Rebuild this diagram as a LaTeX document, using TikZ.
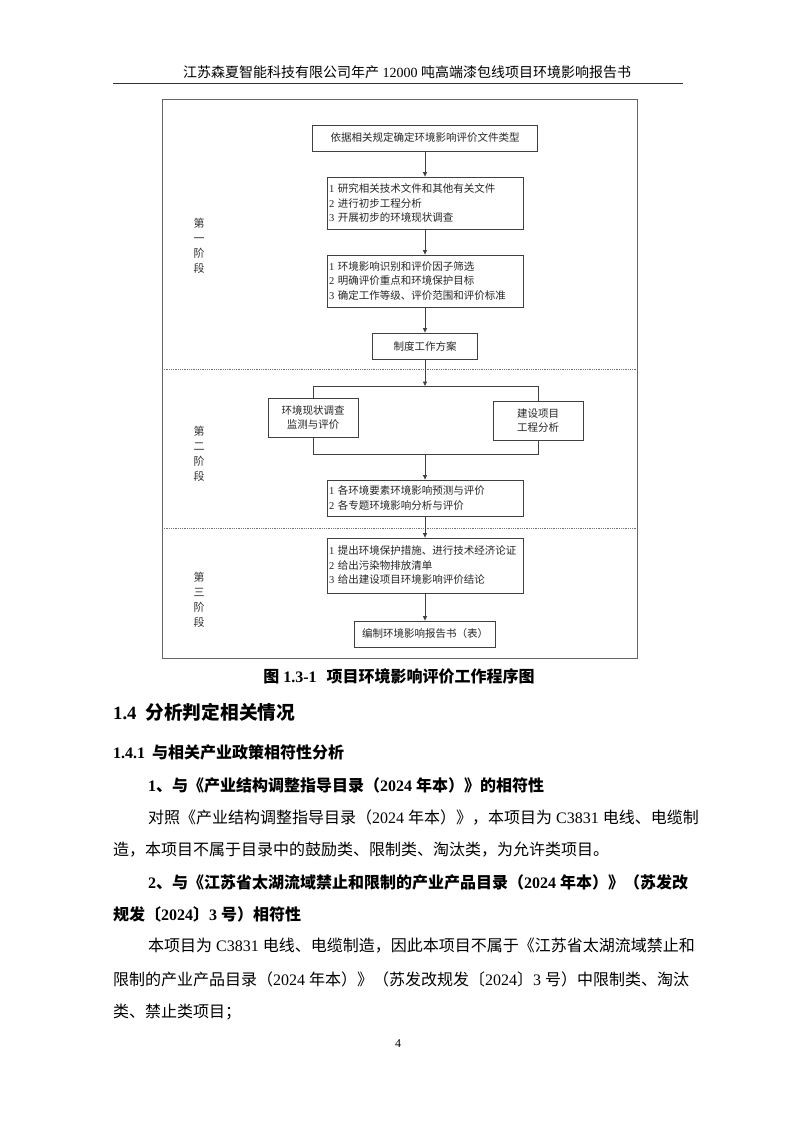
\documentclass[tikz,border=0pt]{standalone}
\usepackage{fontspec}
\setmainfont{Noto Sans CJK SC}
\newfontfamily\latf{Liberation Serif}
\newcommand\ltn[1]{{\latf #1}}
\newcommand\fsz[2]{\fontsize{#1pt}{#2pt}\selectfont}
\usetikzlibrary{arrows.meta}
\begin{document}
\begin{tikzpicture}[x=1pt,y=-1pt,
  box/.style={draw=black!75, line width=0.8pt, inner sep=0pt, text=black!85, font=\fsz{10.5}{14.5}},
  lbox/.style={box, minimum width=196pt, text width=192pt, align=left},
  cbox/.style={box, align=center},
  arr/.style={-{Triangle[length=4.5pt,width=4pt]}, draw=black!75, line width=0.8pt},
  ln/.style={draw=black!75, line width=0.8pt},
  stage/.style={inner sep=0pt, align=center, text=black!80, font=\fsz{11}{15}},
  body/.style={inner sep=0pt, anchor=west, font=\fsz{16}{20}},
  bhead/.style={inner sep=0pt, anchor=west, font=\fsz{16}{20}\bfseries},
]
\useasboundingbox[fill=white] (0,0) rectangle (793,1122);

% header
\node[inner sep=0pt, font=\fsz{14}{16}] (hdr) at (407,72) {江苏森夏智能科技有限公司年产\ltn{ 12000 }吨高端漆包线项目环境影响报告书};
\coordinate (hl) at (113,83);
\coordinate (hr) at (683,83);
\draw[line width=1pt, black!80] (hl) -- (hr);

% frame and stage separators
\draw[black!60, line width=0.9pt] (162,99) rectangle (637,658);
\coordinate (d1l) at (162,369); \coordinate (d1r) at (637,369);
\coordinate (d2l) at (162,528); \coordinate (d2r) at (637,528);
\draw[black!55, line width=0.8pt, dash pattern=on 0.9pt off 0.9pt] (d1l) -- (d1r);
\draw[black!55, line width=0.8pt, dash pattern=on 0.9pt off 0.9pt] (d2l) -- (d2r);

% stage labels
\node[stage] (s1) at (199,245.5) {第\\一\\阶\\段};
\node[stage] (s2) at (199,454) {第\\二\\阶\\段};
\node[stage] (s3) at (199,599.5) {第\\三\\阶\\段};

% boxes
\node[cbox, minimum width=225pt, minimum height=26pt] (b1) at (425,138) {依据相关规定确定环境影响评价文件类型};
\node[lbox, minimum height=52pt] (b2) at (425,203) {\ltn{1} 研究相关技术文件和其他有关文件\\\ltn{2} 进行初步工程分析\\\ltn{3} 开展初步的环境现状调查};
\node[lbox, minimum height=52pt] (b3) at (425,281) {\ltn{1} 环境影响识别和评价因子筛选\\\ltn{2} 明确评价重点和环境保护目标\\\ltn{3} 确定工作等级、评价范围和评价标准};
\node[cbox, minimum width=105pt, minimum height=26pt] (b4) at (425,346) {制度工作方案};
\node[cbox, minimum width=90pt, minimum height=39pt, font=\fsz{10.5}{13.5}] (bl) at (313,417.5) {环境现状调查\\监测与评价};
\node[cbox, minimum width=90pt, minimum height=39pt, font=\fsz{10.5}{13.5}] (br) at (538,420.5) {建设项目\\工程分析};
\node[lbox, minimum height=36pt] (b5) at (425,498) {\ltn{1} 各环境要素环境影响预测与评价\\\ltn{2} 各专题环境影响分析与评价};
\node[lbox, minimum height=55pt] (b6) at (425,565.5) {\ltn{1} 提出环境保护措施、进行技术经济论证\\\ltn{2} 给出污染物排放清单\\\ltn{3} 给出建设项目环境影响评价结论};
\node[cbox, minimum width=141pt, minimum height=26pt] (b7) at (425,634) {编制环境影响报告书（表）};

% connectors
\coordinate (split) at (425,386);
\coordinate (join) at (425,454);
\draw[arr] (b1.south) -- (b2.north);
\draw[arr] (b2.south) -- (b3.north);
\draw[arr] (b3.south) -- (b4.north);
\draw[arr] (b4.south) -- (split);
\draw[ln] (bl.north) -- (bl.north |- split) -- (br.north |- split) -- (br.north);
\draw[ln] (bl.south) -- (bl.south |- join) -- (br.south |- join) -- (br.south);
\draw[arr] (join) -- (b5.north);
\draw[arr] (b5.south) -- (b6.north);
\draw[arr] (b6.south) -- (b7.north);

% caption
\node[inner sep=0pt, font=\fsz{16}{18}\bfseries] (cap) at (399,676) {图\ltn{ 1.3-1}\hspace{10pt}项目环境影响评价工作程序图};

% text
\node[inner sep=0pt, anchor=west, font=\fsz{18.7}{22}\bfseries] (h14) at (113,712) {\ltn{1.4}\hspace{9pt}分析判定相关情况};
\node[bhead] (h141) at (113,752) {\ltn{1.4.1}\hspace{7pt}与相关产业政策相符性分析};
\node[bhead] (h1) at (148,785) {\ltn{1}、与《产业结构调整指导目录（\ltn{2024 }年本）》的相符性};
\node[body] (p1) at (148,817) {对照《产业结构调整指导目录（\ltn{2024 }年本）》，本项目为\ltn{ C3831 }电线、电缆制};
\node[body] (p2) at (113,850) {造，本项目不属于目录中的鼓励类、限制类、淘汰类，为允许类项目。};
\node[bhead] (h2) at (148,882) {\ltn{2}、与《江苏省太湖流域禁止和限制的产业产品目录（\ltn{2024 }年本）》（苏发改};
\node[bhead] (h2b) at (113,914) {规发〔\ltn{2024}〕\ltn{3 }号）相符性};
\node[body] (p3) at (148,946) {本项目为\ltn{ C3831 }电线、电缆制造，因此本项目不属于《江苏省太湖流域禁止和};
\node[body] (p4) at (113,979) {限制的产业产品目录（\ltn{2024 }年本）》（苏发改规发〔\ltn{2024}〕\ltn{3 }号）中限制类、淘汰};
\node[body] (p5) at (113,1012) {类、禁止类项目；};

% page number
\node[inner sep=0pt, font=\fsz{12}{14}\latf] (pg) at (398,1044) {4};
\end{tikzpicture}
\end{document}
